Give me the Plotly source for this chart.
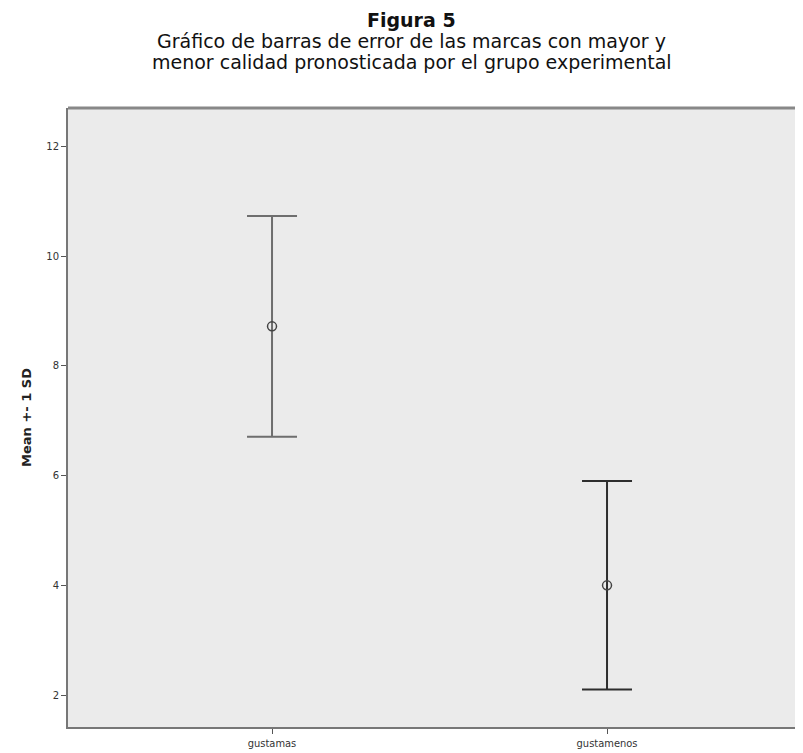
import plotly.graph_objects as go

categories = ["gustamas", "gustamenos"]
means = [8.72, 4.0]
sds = [2.01, 1.9]
y_ticks = [2, 4, 6, 8, 10, 12]
title_lines = [
    "<b>Figura 5</b>",
    "Gráfico de barras de error de las marcas con mayor y",
    "menor calidad pronosticada por el grupo experimental",
]

colors = ["#6e6e6e", "#2e2e2e"]

fig = go.Figure()
for i, cat in enumerate(categories):
    fig.add_trace(go.Scatter(
        x=[i], y=[means[i]], mode="markers",
        marker=dict(symbol="circle-open", size=9, color="#444444", line=dict(width=1.5)),
        error_y=dict(type="data", array=[sds[i]], visible=True, color=colors[i], thickness=2, width=25),
        showlegend=False,
    ))

H, T, B = 745, 100, 26
ph = H - T - B
for k, (txt, ypx) in enumerate(zip(title_lines, [12, 33, 54])):
    fig.add_annotation(
        text=txt, xref="paper", yref="paper", x=0.468,
        y=1 + (T - ypx) / ph, xanchor="center", yanchor="middle", showarrow=False,
        font=dict(size=19, family="DejaVu Sans", color="#111111"),
    )

fig.update_layout(
    width=795, height=H,
    margin=dict(l=60, r=0, t=T, b=B),
    paper_bgcolor="white",
    plot_bgcolor="#ebebeb",
    font=dict(family="DejaVu Sans", color="#222222"),
    xaxis=dict(
        range=[-0.609, 1.585],
        tickmode="array", tickvals=[0, 1], ticktext=categories,
        showgrid=False, zeroline=False,
        showline=True, linecolor="#777777", linewidth=2,
        ticks="outside", ticklen=5, tickcolor="#555555", tickwidth=1,
        tickfont=dict(size=11, family="Liberation Sans Narrow, DejaVu Sans Condensed", color="#333333"),
    ),
    yaxis=dict(
        range=[1.418, 12.7],
        tickmode="array", tickvals=y_ticks,
        showgrid=False, zeroline=False,
        showline=True, linecolor="#777777", linewidth=2,
        ticks="outside", ticklen=5, tickcolor="#555555", tickwidth=1,
        tickfont=dict(size=10, color="#333333"),
        title=dict(text="<b>Mean +- 1 SD</b>", font=dict(size=13, color="#222222"), standoff=12),
    ),
)
fig.add_shape(type="line", xref="paper", yref="paper", x0=0, x1=1, y0=1, y1=1,
              line=dict(color="#888888", width=3))

fig.write_html("out.html")
